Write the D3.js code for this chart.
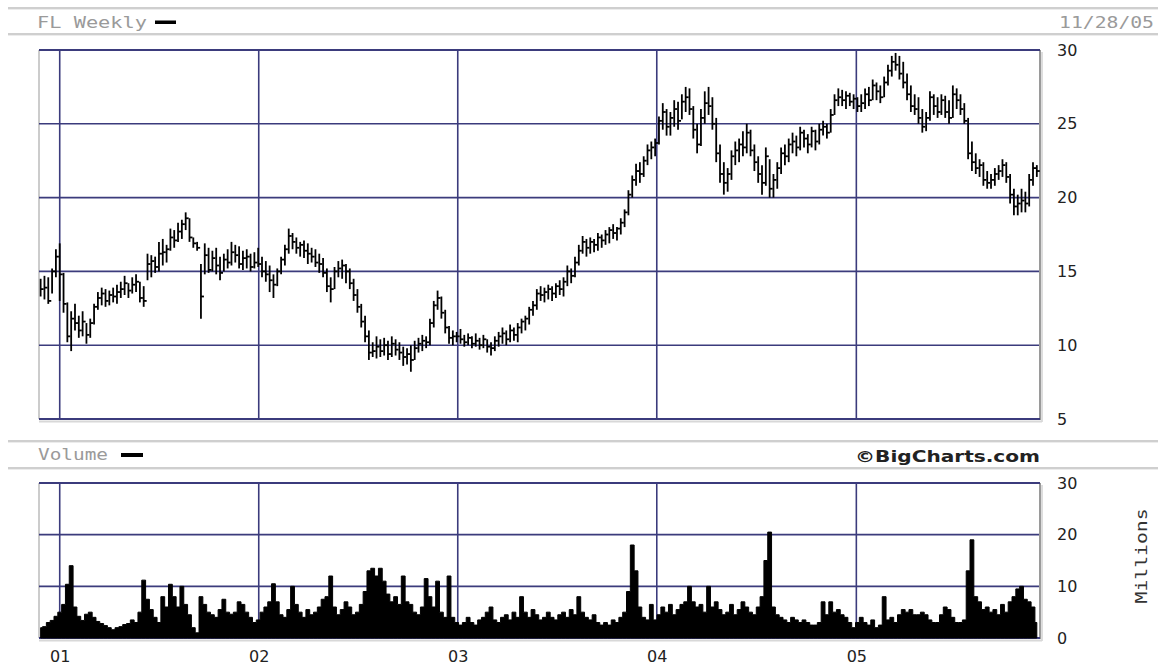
<!DOCTYPE html>
<html><head><meta charset="utf-8">
<script src="https://cdn.jsdelivr.net/npm/d3@7/dist/d3.min.js"></script>
<style>html,body{margin:0;padding:0;background:#fff;}svg{display:block;}</style>
</head><body>
<script>
// ---- data ----
const firstWeek = "2000-11-27", lastWeek = "2005-11-28";
const yearTicks = ["2001-01-01","2002-01-01","2003-01-01","2004-01-01","2005-01-01"];
const priceTicks = [5,10,15,20,25,30];
const volumeTicks = [0,10,20,30];
const weekHigh = [
14.5,14.7,14.6,15.2,16.5,16.9,14.9,12.9,12.3,12.8,
12.0,12.3,11.5,11.8,12.8,13.6,13.9,13.8,13.7,13.9,
14.1,14.3,14.7,14.2,14.6,14.8,14.3,14.0,16.2,16.1,
16.0,17.0,17.2,16.8,17.9,17.8,18.3,18.5,19.0,18.6,
17.3,17.0,15.5,16.9,16.6,16.4,16.6,16.0,16.2,16.5,
17.0,16.8,16.7,16.4,16.5,16.2,16.3,16.6,16.0,15.7,
15.4,14.8,15.2,16.0,16.8,17.9,17.6,17.3,17.0,17.1,
16.9,16.6,16.5,16.2,15.9,15.2,14.6,15.3,15.7,15.8,
15.5,15.2,14.5,13.8,12.8,12.0,11.0,10.2,10.6,10.4,
10.5,10.3,10.6,10.4,10.2,9.9,9.8,10.0,10.3,10.5,
10.7,10.6,11.8,13.0,13.7,13.3,12.4,11.3,11.0,10.9,
11.1,10.7,10.8,10.6,10.8,10.5,10.7,10.4,10.2,10.6,
10.9,11.2,11.0,11.4,11.2,11.5,11.8,12.0,12.6,13.0,
13.8,14.0,13.9,14.1,14.0,14.2,14.4,14.6,15.4,15.2,
16.0,16.8,17.4,17.2,17.3,17.2,17.6,17.5,17.8,18.0,
18.2,18.0,18.6,19.2,20.5,21.5,22.3,22.4,22.8,23.6,
23.8,24.0,25.5,26.4,26.0,25.8,26.6,26.5,27.0,27.5,
27.4,26.2,25.0,26.0,27.2,27.5,26.8,25.4,23.6,22.4,
22.0,23.2,23.8,24.0,24.5,25.0,24.6,23.6,22.8,22.2,
23.4,22.6,21.6,22.4,23.4,23.6,24.0,24.4,24.2,24.8,
24.6,24.3,24.8,24.6,25.0,25.2,25.0,26.0,27.0,27.4,
27.3,27.2,27.1,27.0,26.8,27.0,27.4,27.5,28.0,27.8,
27.6,28.2,29.0,29.6,29.8,29.6,29.2,28.4,27.6,27.0,
26.8,26.0,25.8,27.2,27.0,26.8,27.0,26.9,26.6,27.6,
27.4,27.0,26.4,25.4,23.8,23.0,22.6,22.4,21.8,21.6,
22.0,22.2,22.6,22.4,21.6,20.6,20.2,20.6,20.4,21.6,
22.4,22.2];
const weekLow = [
13.3,13.1,12.8,13.5,14.6,13.0,12.2,10.2,9.6,11.0,
10.5,10.6,10.1,10.5,11.4,12.4,12.7,12.6,12.7,12.9,
12.8,13.2,13.4,13.2,13.5,13.6,12.9,12.6,14.4,14.6,
14.9,15.0,15.4,15.6,16.4,16.6,17.0,17.2,17.8,17.0,
16.6,16.4,11.8,14.8,14.9,15.0,14.8,14.4,15.0,15.2,
15.4,15.6,15.2,15.1,15.2,15.0,15.2,15.3,14.6,14.3,
13.6,13.2,14.0,14.8,15.4,16.2,16.5,16.2,16.0,15.9,
15.5,15.6,15.3,14.9,14.6,13.6,12.9,13.8,14.6,14.5,
14.2,13.8,13.0,12.2,11.2,10.2,9.0,9.2,9.1,9.2,
9.3,9.0,9.2,9.3,9.0,8.6,8.7,8.2,9.0,9.5,
9.6,9.8,10.0,11.2,12.4,11.8,10.8,10.1,10.0,10.2,
10.1,9.9,10.0,9.8,9.9,9.7,9.8,9.5,9.3,9.6,
9.9,10.1,10.0,10.2,10.3,10.2,10.8,11.0,11.4,12.0,
12.4,13.0,12.9,13.1,13.0,13.2,13.4,13.3,14.0,14.2,
14.6,15.4,16.2,16.0,16.2,16.3,16.4,16.6,16.8,16.9,
17.2,17.1,17.5,18.0,18.8,20.0,20.8,21.0,21.4,22.2,
22.6,22.8,23.6,24.6,24.2,24.2,24.8,24.6,25.3,25.8,
25.6,24.0,23.0,23.5,25.0,25.6,24.6,22.4,21.0,20.2,
20.4,21.2,22.2,22.4,22.8,23.0,22.8,21.8,21.0,20.2,
20.8,20.0,20.0,20.6,21.6,22.2,22.4,23.0,22.8,23.2,
23.4,23.0,23.4,23.2,23.6,24.2,24.0,24.4,25.6,26.2,
26.2,26.0,26.2,26.0,25.8,25.8,26.0,26.2,26.6,26.6,
26.4,26.8,27.6,28.2,28.6,28.0,27.4,26.6,25.8,25.6,
25.0,24.4,24.5,25.2,25.6,25.4,25.6,25.4,25.0,25.4,
26.0,25.6,25.0,22.6,21.8,21.6,21.4,20.8,20.6,20.6,
20.8,21.2,21.4,21.0,19.6,18.8,18.8,19.0,19.0,19.4,
20.8,21.4];
const weekClose = [
13.8,13.9,13.0,15.0,16.0,14.8,12.8,10.6,11.8,11.5,
11.0,11.6,10.7,11.5,12.6,13.2,13.5,13.0,13.4,13.3,
13.6,13.8,14.2,13.7,14.1,14.3,13.2,13.0,15.5,15.7,
15.3,16.2,16.3,16.5,17.3,17.1,17.7,18.2,18.6,17.3,
16.9,16.6,13.3,16.1,15.1,15.9,15.4,14.9,15.8,15.6,
16.3,16.1,15.5,15.9,16.0,15.3,15.6,15.5,15.0,14.8,
14.4,14.1,15.0,15.8,16.5,17.4,17.0,16.6,16.8,16.4,
16.2,16.0,15.6,15.5,14.9,14.0,13.8,15.0,15.2,15.4,
15.0,14.2,13.4,12.6,11.6,10.6,9.5,9.6,9.9,9.6,
10.0,9.4,10.1,9.7,9.5,9.2,9.4,9.0,9.8,10.1,
10.3,10.2,11.5,12.7,13.2,12.2,11.2,10.5,10.6,10.6,
10.4,10.2,10.5,10.1,10.3,10.0,10.4,9.9,9.8,10.3,
10.6,10.8,10.4,11.0,10.7,11.2,11.6,11.8,12.4,12.7,
13.5,13.4,13.6,13.8,13.5,14.0,13.8,14.3,15.0,14.7,
15.6,16.4,17.0,16.6,17.0,16.8,17.3,17.1,17.5,17.8,
17.6,17.9,18.3,19.0,20.2,21.2,21.8,21.6,22.5,23.2,
23.4,23.7,25.2,25.8,24.8,25.4,26.0,25.2,26.5,26.8,
26.0,24.6,23.6,25.4,26.4,26.2,25.0,23.0,21.6,21.0,
21.6,22.8,23.2,23.6,23.4,24.4,23.2,22.4,21.6,21.0,
22.8,20.6,21.2,22.0,23.0,22.8,23.6,23.8,23.4,24.4,
24.0,23.6,24.5,23.8,24.6,24.8,24.4,25.6,26.6,26.8,
26.6,26.9,26.5,26.7,26.2,26.4,27.0,26.6,27.6,27.2,
26.8,27.8,28.6,29.2,29.0,28.4,27.8,27.0,26.2,26.0,
25.4,24.8,25.4,26.8,26.2,25.8,26.6,25.8,25.4,27.0,
26.6,26.0,25.2,23.0,22.4,22.0,22.2,21.2,21.0,21.2,
21.6,21.8,22.2,21.4,20.2,19.4,19.6,19.8,19.6,21.2,
22.0,21.8];
const weekVolume = [
2.0,2.2,3.0,3.4,4.2,5.0,6.5,10.4,14.0,6.0,
4.2,3.4,4.6,5.0,4.0,3.2,2.8,2.4,2.0,1.6,
2.0,2.2,2.6,2.8,3.5,3.0,5.0,11.2,7.5,5.5,
4.0,3.0,8.0,6.0,10.4,8.0,6.0,10.0,6.5,4.5,
2.0,1.0,8.0,6.5,5.0,4.5,4.0,5.5,7.5,5.0,
4.6,5.0,7.0,6.5,5.0,4.0,3.0,3.5,5.0,6.0,
7.0,10.5,7.0,4.5,4.0,5.5,10.0,6.5,5.0,4.0,
5.5,4.5,5.0,6.0,7.5,8.0,12.0,6.0,4.5,5.5,
7.0,6.0,4.5,5.0,6.5,9.0,13.0,13.5,12.0,13.5,
11.0,8.5,7.0,8.0,6.5,12.0,7.0,6.5,5.0,4.5,
6.0,11.5,8.0,6.0,11.0,5.0,4.0,12.0,4.0,3.0,
2.5,3.0,4.0,3.0,2.5,3.5,4.0,5.0,6.0,3.5,
3.0,4.0,4.5,3.5,5.0,4.0,8.0,5.0,4.0,5.5,
4.5,3.5,4.0,5.0,4.0,3.5,4.5,5.0,4.0,5.5,
4.5,8.0,5.0,4.0,3.5,4.5,3.0,2.5,3.0,2.5,
3.5,3.0,4.0,5.0,9.0,18.0,13.0,6.0,4.0,3.5,
6.5,3.5,4.5,6.0,5.0,6.5,4.5,5.5,6.5,7.0,
10.0,7.0,6.0,6.5,5.0,10.0,6.0,7.0,5.5,4.5,
5.0,6.5,4.5,5.5,7.0,6.0,5.0,4.5,6.0,8.0,
15.0,20.5,6.0,4.5,4.0,3.5,3.0,4.0,3.5,3.0,
3.5,3.0,2.5,2.5,3.0,7.0,4.5,7.0,5.0,5.5,
4.5,4.0,3.0,2.0,3.0,4.0,3.0,2.5,3.5,2.0,
2.5,8.0,3.5,4.0,3.0,4.5,5.5,5.0,5.5,4.5,
4.5,5.0,4.5,3.5,3.0,3.0,4.5,6.0,5.5,4.0,
3.0,3.0,3.5,13.0,19.0,8.0,7.0,5.5,6.0,5.0,
5.5,4.5,6.5,5.0,7.0,8.0,9.5,10.0,7.5,7.0,
6.0,3.0];

// ---- layout ----
const W = 1158, H = 665;
const L = 39, R = 1039;
const pTop = 50, pBot = 419;
const vTop = 483, vBot = 638;
const NAVY = "#3b3b7c";
const parse = d3.utcParse("%Y-%m-%d");
const weeks = d3.utcMonday.range(parse(firstWeek), d3.utcDay.offset(parse(lastWeek), 1));
const data = weeks.map((d, i) => ({date: d, h: weekHigh[i], l: weekLow[i], c: weekClose[i], v: weekVolume[i]}));

const x = d3.scaleUtc().domain([parse("2000-11-24"), parse("2005-12-02")]).range([L, R]);
const yP = d3.scaleLinear().domain([5, 30]).range([pBot, pTop]);
const yV = d3.scaleLinear().domain([0, 30]).range([vBot, vTop]);
const yearDates = yearTicks.map(parse);

const svg = d3.select("body").append("svg").attr("width", W).attr("height", H);
svg.append("rect").attr("width", W).attr("height", H).attr("fill", "#fff");

const mono = "'DejaVu Sans Mono', monospace";
function headerBand(y1, y2) {
  [y1, y2].forEach(y => {
    svg.append("rect").attr("x", 8).attr("y", y).attr("width", W - 8).attr("height", 2).attr("fill", "#cfcfcf");
    svg.append("rect").attr("x", 8).attr("y", y + 2).attr("width", W - 8).attr("height", 1).attr("fill", "#ececec");
  });
}
headerBand(7, 33);
headerBand(440, 467);

svg.append("text").attr("x", 37).attr("y", 28).text("FL Weekly")
  .attr("font-family", mono).attr("font-size", 16).attr("fill", "#9a9a9a")
  .attr("textLength", 110).attr("lengthAdjust", "spacingAndGlyphs");
svg.append("rect").attr("x", 155).attr("y", 20.5).attr("width", 21).attr("height", 3.5).attr("fill", "#000");
svg.append("text").attr("x", 1154).attr("y", 28).attr("text-anchor", "end").text("11/28/05")
  .attr("font-family", mono).attr("font-size", 16).attr("fill", "#9a9a9a")
  .attr("textLength", 95).attr("lengthAdjust", "spacingAndGlyphs");

svg.append("text").attr("x", 38).attr("y", 460).text("Volume")
  .attr("font-family", mono).attr("font-size", 16).attr("fill", "#9a9a9a")
  .attr("textLength", 70).attr("lengthAdjust", "spacingAndGlyphs");
svg.append("rect").attr("x", 121).attr("y", 453).attr("width", 22).attr("height", 4).attr("fill", "#000");
svg.append("text").attr("x", 855).attr("y", 462).text("\u00A9BigCharts.com")
  .attr("font-family", "'DejaVu Sans', Verdana, sans-serif").attr("font-weight", "bold").attr("font-size", 16).attr("fill", "#222")
  .attr("textLength", 185).attr("lengthAdjust", "spacingAndGlyphs");

// ---- panel frames & grids ----
function panel(top, bot, yScale, gridVals) {
  const g = svg.append("g");
  g.append("line").attr("x1", L).attr("x2", L).attr("y1", top).attr("y2", bot).attr("stroke", "#cccccc").attr("stroke-width", 2);
  g.append("line").attr("x1", R + 1).attr("x2", R + 1).attr("y1", top).attr("y2", bot + 1).attr("stroke", "#9a9a9a").attr("stroke-width", 2);
  g.append("line").attr("x1", R + 3).attr("x2", R + 3).attr("y1", top + 2).attr("y2", bot + 3).attr("stroke", "#dddddd").attr("stroke-width", 2);
  g.append("line").attr("x1", L).attr("x2", R + 3).attr("y1", bot + 2.5).attr("y2", bot + 2.5).attr("stroke", "#d8d8d8").attr("stroke-width", 2);
  g.selectAll(".hg").data(gridVals).join("line")
    .attr("x1", L).attr("x2", R).attr("y1", d => yScale(d)).attr("y2", d => yScale(d))
    .attr("stroke", NAVY).attr("stroke-width", 1.6);
  g.selectAll(".vg").data(yearDates).join("line")
    .attr("x1", d => x(d)).attr("x2", d => x(d)).attr("y1", top).attr("y2", bot)
    .attr("stroke", NAVY).attr("stroke-width", 1.6);
  g.append("line").attr("x1", L).attr("x2", R + 1).attr("y1", top).attr("y2", top).attr("stroke", NAVY).attr("stroke-width", 2);
  g.append("line").attr("x1", L).attr("x2", R + 1).attr("y1", bot).attr("y2", bot).attr("stroke", NAVY).attr("stroke-width", 2);
  return g;
}
panel(pTop, pBot, yP, [10, 15, 20, 25]);
panel(vTop, vBot, yV, [10, 20]);

// ---- price bars (HLC) ----
const bars = svg.append("g").attr("stroke", "#000").attr("stroke-width", 1.8).attr("fill", "none");
bars.selectAll("line.hl").data(data).join("line")
  .attr("x1", d => x(d.date)).attr("x2", d => x(d.date))
  .attr("y1", d => yP(d.h)).attr("y2", d => yP(d.l));
bars.selectAll("line.cl").data(data).join("line")
  .attr("x1", d => x(d.date)).attr("x2", d => x(d.date) + 3)
  .attr("y1", d => yP(d.c)).attr("y2", d => yP(d.c));

// ---- volume (stepped filled area) ----
const volArea = d3.area()
  .x(d => x(d.date))
  .y0(vBot)
  .y1(d => yV(d.v))
  .curve(d3.curveStep);
svg.append("path").datum(data).attr("d", volArea).attr("fill", "#000")
  .attr("stroke", "#000").attr("stroke-width", 1).attr("stroke-linejoin", "miter");

// ---- axes ----
const numFont = "'DejaVu Sans', Verdana, sans-serif";
function styleAxis(g) {
  g.select(".domain").remove();
  g.selectAll(".tick line").remove();
  g.selectAll("text").attr("font-family", numFont).attr("font-size", 16).attr("fill", "#222");
}
svg.append("g").attr("transform", `translate(${R + 12},0)`)
  .call(d3.axisRight(yP).tickValues(priceTicks).tickFormat(d3.format("d")).tickSize(0).tickPadding(6))
  .call(styleAxis);
svg.append("g").attr("transform", `translate(${R + 12},0)`)
  .call(d3.axisRight(yV).tickValues(volumeTicks).tickFormat(d3.format("d")).tickSize(0).tickPadding(6))
  .call(styleAxis);
svg.append("g").attr("transform", `translate(0,${vBot + 13})`)
  .call(d3.axisBottom(x).tickValues(yearDates).tickFormat(d3.utcFormat("%y")).tickSize(0).tickPadding(0))
  .call(styleAxis)
  .selectAll("text").attr("dy", "0.71em");

svg.append("text").attr("transform", "translate(1147,556) rotate(-90)")
  .attr("text-anchor", "middle").text("Millions")
  .attr("font-family", mono).attr("font-size", 16).attr("fill", "#333")
  .attr("textLength", 95).attr("lengthAdjust", "spacingAndGlyphs");
</script>
</body></html>
